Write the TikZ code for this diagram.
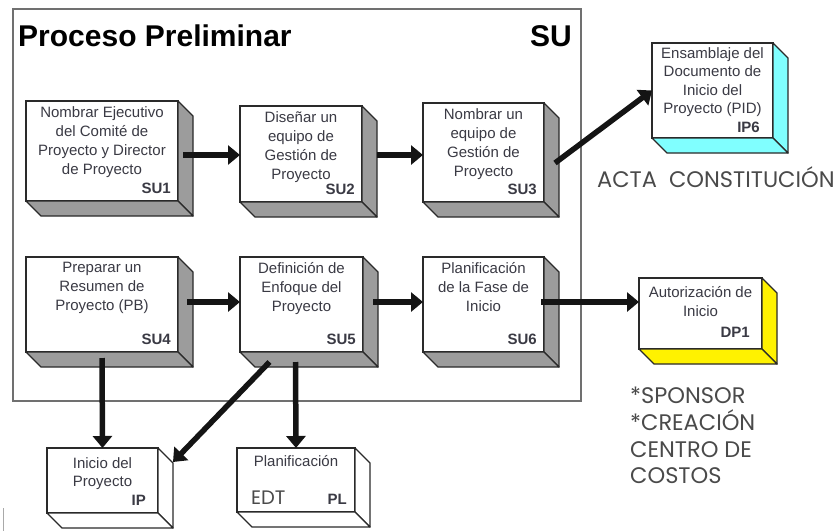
\documentclass[tikz,border=0pt]{standalone}
\usepackage{fontspec}
\setmainfont{Liberation Sans}
\newfontfamily\geo{Poppins}
\usetikzlibrary{arrows.meta}

\definecolor{edge}{HTML}{2A2A2A}
\definecolor{sidegrey}{HTML}{9C9C9C}
\definecolor{sidecyan}{HTML}{80FFFF}
\definecolor{sideyellow}{HTML}{FFF200}
\definecolor{txt}{HTML}{3A3A44}
\definecolor{framegrey}{HTML}{707070}
\definecolor{note}{HTML}{4A4A4A}

\tikzset{
  front/.style={draw=edge, line width=1.3pt, fill=white, rectangle,
    inner sep=0pt, outer sep=0pt, anchor=north west},
  face/.style={draw=edge, line width=1.3pt, line join=round},
  body/.style={font=\fontsize{15}{19}\selectfont, text=txt, align=center,
    anchor=north, inner sep=0pt},
  code/.style={font=\bfseries\fontsize{15}{18}\selectfont, text=txt,
    anchor=base east, inner sep=0pt},
  notetext/.style={font=\geo\fontsize{22.5}{27}\selectfont, text=note,
    inner sep=0pt, align=left},
  arr/.style={line width=5.5pt, draw=black!92,
    -{Triangle[length=12pt,width=19pt]}},
}

% #1 name, #2 x, #3 y (top left), #4 width, #5 height, #6 depth, #7 side colour
\newcommand\depthbox[7]{%
  \node[front, minimum width=#4pt, minimum height=#5pt] (#1) at (#2,#3) {};
  \filldraw[face, fill=#7] (#1.north east) -- ++(#6,#6)
    -- ([shift={(#6pt,-#6pt)}]#1.south east) -- (#1.south east) -- cycle;
  \filldraw[face, fill=#7] (#1.south west) -- ([shift={(#6pt,-#6pt)}]#1.south west)
    -- ([shift={(#6pt,-#6pt)}]#1.south east) -- (#1.south east) -- cycle;
}

\begin{document}
\begin{tikzpicture}[x=1pt, y=-1pt]
\useasboundingbox (0,0) rectangle (837,531);

% process frame
\node[draw=framegrey, line width=2pt, minimum width=568pt, minimum height=392pt,
  inner sep=0pt, anchor=north west] (frame) at (12,8) {};
\node[font=\bfseries\fontsize{30}{34}\selectfont, anchor=base west, inner sep=0pt]
  (title) at (18,46) {Proceso Preliminar};
\node[font=\bfseries\fontsize{30}{34}\selectfont, anchor=base east, inner sep=0pt]
  (sutag) at (572,46) {SU};

% first row
\depthbox{su1}{26}{101}{152}{100}{15}{sidegrey}
\depthbox{su2}{240}{106}{122}{96}{15}{sidegrey}
\depthbox{su3}{423}{103}{121}{99}{15}{sidegrey}
% second row
\depthbox{su4}{26}{257}{152}{95}{15}{sidegrey}
\depthbox{su5}{240}{257}{123}{95}{15}{sidegrey}
\depthbox{su6}{423}{257}{121}{95}{15}{sidegrey}
% outputs
\depthbox{ip6}{652}{43}{121}{95}{15}{sidecyan}
\depthbox{dp1}{639}{278}{123}{71}{15}{sideyellow}
\depthbox{ip}{47}{448}{111}{65}{15}{white}
\depthbox{pl}{237}{448}{118}{64}{15}{white}

% box texts
\node[body] (su1t) at ([yshift=-5pt]su1.north) {Nombrar Ejecutivo\\del Comité de\\Proyecto y Director\\de Proyecto};
\node[code] (su1c) at ([shift={(-7pt,8pt)}]su1.south east) {SU1};
\node[body] (su2t) at ([yshift=-5pt]su2.north) {Diseñar un\\equipo de\\Gestión de\\Proyecto};
\node[code] (su2c) at ([shift={(-7pt,8pt)}]su2.south east) {SU2};
\node[body] (su3t) at ([yshift=-5pt]su3.north) {Nombrar un\\equipo de\\Gestión de\\Proyecto};
\node[code] (su3c) at ([shift={(-7pt,8pt)}]su3.south east) {SU3};
\node[body] (su4t) at ([yshift=-5pt]su4.north) {Preparar un\\Resumen de\\Proyecto (PB)};
\node[code] (su4c) at ([shift={(-7pt,8pt)}]su4.south east) {SU4};
\node[body] (su5t) at ([yshift=-5pt]su5.north) {Definición de\\Enfoque del\\Proyecto};
\node[code] (su5c) at ([shift={(-7pt,8pt)}]su5.south east) {SU5};
\node[body] (su6t) at ([yshift=-5pt]su6.north) {Planificación\\de la Fase de\\Inicio};
\node[code] (su6c) at ([shift={(-7pt,8pt)}]su6.south east) {SU6};
\node[body, font=\fontsize{15}{18.5}\selectfont] (ip6t) at ([yshift=-4pt]ip6.north) {Ensamblaje del\\Documento de\\Inicio del\\Proyecto (PID)};
\node[code] (ip6c) at ([shift={(-13pt,6pt)}]ip6.south east) {IP6};
\node[body] (dp1t) at ([yshift=-8pt]dp1.north) {Autorización de\\Inicio};
\node[code] (dp1c) at ([shift={(-12pt,12pt)}]dp1.south east) {DP1};
\node[body, font=\fontsize{15}{18}\selectfont] (ipt) at ([yshift=-9pt]ip.north) {Inicio del\\Proyecto};
\node[code] (ipc) at ([shift={(-12pt,8pt)}]ip.south east) {IP};
\node[body] (plt) at ([yshift=-7pt]pl.north) {Planificación};
\node[code] (plc) at ([shift={(-8pt,8pt)}]pl.south east) {PL};
\node[font=\geo\fontsize{19.5}{22}\selectfont, text=note, anchor=base west, inner sep=0pt]
  (edt) at ([shift={(14pt,8pt)}]pl.south west) {EDT};

% notes
\node[notetext, anchor=base west] (acta) at (597,187) {ACTA\ \ CONSTITUCIÓN};
\node[notetext, anchor=base west] (sponsor) at (630,403) {*SPONSOR};
\node[notetext, anchor=base west] (creacion) at (630,430) {*CREACIÓN};
\node[notetext, anchor=base west] (centro) at (630,457) {CENTRO DE};
\node[notetext, anchor=base west] (costos) at (630,483) {COSTOS};

% flow connectors
\draw[arr] ([xshift=5pt,yshift=-4pt]su1.east) -- ([yshift=-1pt]su2.west);
\draw[arr] ([xshift=15pt,yshift=-1pt]su2.east) -- ([yshift=-2.5pt]su3.west);
\draw[arr] ([shift={(11pt,-10.5pt)}]su3.east) -- (ip6.west);
\draw[arr] ([xshift=9pt,yshift=2.5pt]su4.east) -- ([yshift=2.5pt]su5.west);
\draw[arr] ([xshift=10pt,yshift=2.5pt]su5.east) -- ([yshift=2.5pt]su6.west);
\draw[arr] ([xshift=-3pt,yshift=2.5pt]su6.east) -- ([yshift=11.5pt]dp1.west);
\draw[arr] ([yshift=-6pt]su4.south) -- (ip.north);
\draw[arr] ([xshift=-6pt,yshift=-10pt]su5.south) -- (pl.north);
\draw[arr] ([xshift=-32pt,yshift=-10pt]su5.south) -- ([shift={(15pt,-14pt)}]ip.north east);

% edge of a neighbouring element at the lower left
\draw[framegrey!60, line width=1pt] (3,508) -- (3,531);
\end{tikzpicture}
\end{document}
